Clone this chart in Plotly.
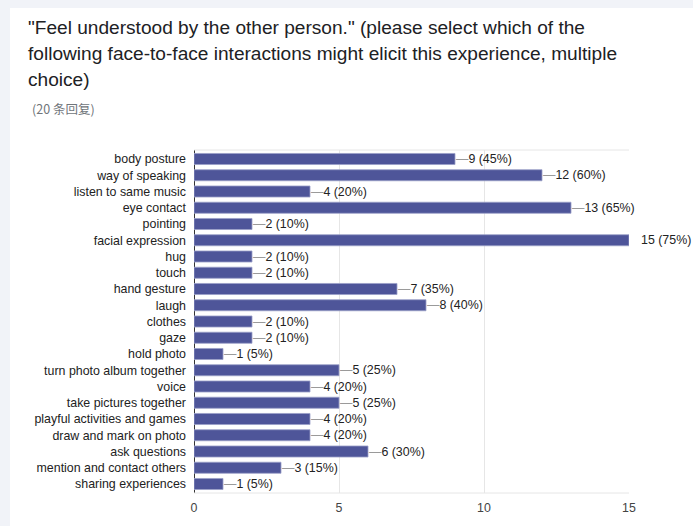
import plotly.graph_objects as go

categories = ["body posture", "way of speaking", "listen to same music", "eye contact",
              "pointing", "facial expression", "hug", "touch", "hand gesture", "laugh",
              "clothes", "gaze", "hold photo", "turn photo album together", "voice",
              "take pictures together", "playful activities and games",
              "draw and mark on photo", "ask questions", "mention and contact others",
              "sharing experiences"]
counts = [9, 12, 4, 13, 2, 15, 2, 2, 7, 8, 2, 2, 1, 5, 4, 5, 4, 4, 6, 3, 1]
percents = [45, 60, 20, 65, 10, 75, 10, 10, 35, 40, 10, 10, 5, 25, 20, 25, 20, 20, 30, 15, 5]
x_ticks = [0, 5, 10, 15]

title_lines = ['"Feel understood by the other person." (please select which of the',
               'following face-to-face interactions might elicit this experience, multiple',
               'choice)']
subtitle = "(20 条回复)"

FONT = "Liberation Sans, Arial, sans-serif"
xmax = max(counts)

fig = go.Figure()
fig.add_trace(go.Bar(
    x=counts, y=categories, orientation="h",
    marker=dict(color="#4e5599", line=dict(color="#9aa0c8", width=0.8)),
    width=0.68, hoverinfo="skip",
))

annotations = []
for c, p, cat in zip(counts, percents, categories):
    if c == xmax:
        annotations.append(dict(x=c, y=cat, xref="x", yref="y", xanchor="left",
                                yanchor="middle", xshift=10, showarrow=False,
                                text=f"{c} ({p}%)",
                                font=dict(family=FONT, size=12.4, color="#222222")))
    else:
        annotations.append(dict(x=c, y=cat, xref="x", yref="y", xanchor="left",
                                yanchor="middle", xshift=-1, showarrow=False,
                                text=f'<span style="color:#9a9a9a">—</span>{c} ({p}%)',
                                font=dict(family=FONT, size=12.4, color="#222222")))

title_y = [1.3586, 1.2799, 1.2041]
for line, ty in zip(title_lines, title_y):
    annotations.append(dict(x=-0.3862, y=ty, xref="paper", yref="paper", xanchor="left",
                            yanchor="middle", showarrow=False, align="left", text=line,
                            font=dict(family=FONT, size=19.1, color="#202124")))
annotations.append(dict(x=-0.3770, y=1.1224, xref="paper", yref="paper", xanchor="left",
                        yanchor="middle", showarrow=False, text=subtitle,
                        font=dict(family="Noto Sans CJK SC, sans-serif", size=12.5, color="#70757a")))

shapes = [
    dict(type="rect", xref="paper", yref="paper", x0=-0.423, x1=1.3, y0=-0.2, y1=1.414,
         fillcolor="white", line=dict(width=0), layer="below"),
    dict(type="line", xref="paper", yref="paper", x0=0, x1=1, y0=1, y1=1,
         line=dict(color="#e6e6e6", width=1)),
    dict(type="line", xref="paper", yref="paper", x0=0, x1=1, y0=0, y1=0,
         line=dict(color="#e6e6e6", width=1)),
]

fig.update_layout(
    width=693, height=526,
    margin=dict(l=194, r=64, t=150, b=33),
    paper_bgcolor="#f1f3f8", plot_bgcolor="white",
    showlegend=False,
    annotations=annotations, shapes=shapes,
    font=dict(family=FONT, size=12.4, color="#222222"),
)
fig.update_xaxes(range=[0, 15], tickvals=x_ticks, showgrid=True, gridcolor="#e6e6e6",
                 gridwidth=1, zeroline=True, zerolinecolor="#333333", zerolinewidth=1,
                 showline=False, ticks="", tickfont=dict(family=FONT, size=12.4, color="#444444"),
                 ticklabelstandoff=6, fixedrange=True)
fig.update_yaxes(autorange="reversed", showgrid=False, zeroline=False, showline=False,
                 ticks="", ticklabelstandoff=7,
                 tickfont=dict(family=FONT, size=12.4, color="#222222"), fixedrange=True)

fig.write_html("out.html", config={"displayModeBar": False},
               post_script="document.body.style.margin='0';")
